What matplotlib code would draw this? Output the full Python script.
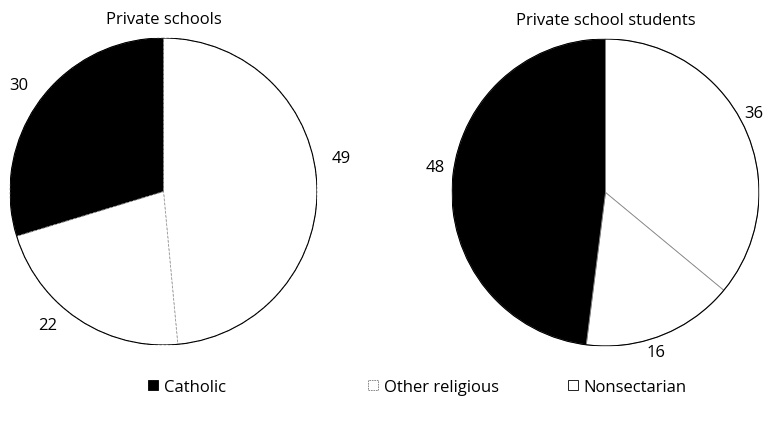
import matplotlib
matplotlib.use('Agg')
import matplotlib.pyplot as plt
import numpy as np
from matplotlib.patches import Circle, Patch

plt.rcParams['font.family'] = ['Open Sans', 'DejaVu Sans']

categories = ['Catholic', 'Other religious', 'Nonsectarian']
titles = ['Private schools', 'Private school students']
# values in drawing order (clockwise from 12 o'clock): Nonsectarian, Other religious, Catholic
schools = [49, 22, 30]
students = [36, 16, 48]
colors = ['white', 'white', 'black']
label_dist = [[1.18, 1.15, 1.17], [1.10, 1.09, 1.12]]
label_shift = [[8, -7, 0], [3, -4, -5]]   # degrees, to nudge labels as in the original

fig = plt.figure(figsize=(7.68, 4.27), dpi=100)
fig.patch.set_facecolor('white')

positions = [[10/768, 81/427, 307/768, 307/427], [452/768, 80/427, 307/768, 307/427]]
divider = [dict(edgecolor='#9a9a9a', linewidth=0.6, linestyle=(0, (3, 2))),
           dict(edgecolor='#8a8a8a', linewidth=0.6)]

for k, vals in enumerate([schools, students]):
    ax = fig.add_axes(positions[k])
    wedges, texts = ax.pie(vals, colors=colors, startangle=90, counterclock=False,
                           labels=[str(v) for v in vals], wedgeprops=divider[k],
                           textprops=dict(fontsize=12))
    for t, d, s, w in zip(texts, label_dist[k], label_shift[k], wedges):
        ang = np.deg2rad((w.theta1 + w.theta2) / 2 + s)
        t.set_position((d * np.cos(ang), d * np.sin(ang)))
        t.set_ha('center')
        t.set_va('center')
    ax.add_patch(Circle((0, 0), 1, fill=False, edgecolor='black', linewidth=0.8))
    ax.set_xlim(-1.0, 1.0)
    ax.set_ylim(-1.0, 1.0)
    ax.set_aspect('equal')
    ax.set_title(titles[k], fontsize=12, pad=11)

handles = [Patch(facecolor='black', edgecolor='black', linewidth=0.6),
           Patch(facecolor='white', edgecolor='#777777', linewidth=0.6, linestyle=(0, (2, 1))),
           Patch(facecolor='white', edgecolor='black', linewidth=0.6)]
legend_x = [148, 368, 568]
for h, c, x in zip(handles, categories, legend_x):
    fig.legend([h], [c], loc='center left', bbox_to_anchor=(x / 768, 1 - 388 / 427),
               frameon=False, fontsize=12, handlelength=0.6, handleheight=0.6,
               handletextpad=0.35, borderpad=0, borderaxespad=0)

plt.savefig('out.png', dpi=100, facecolor='white')
